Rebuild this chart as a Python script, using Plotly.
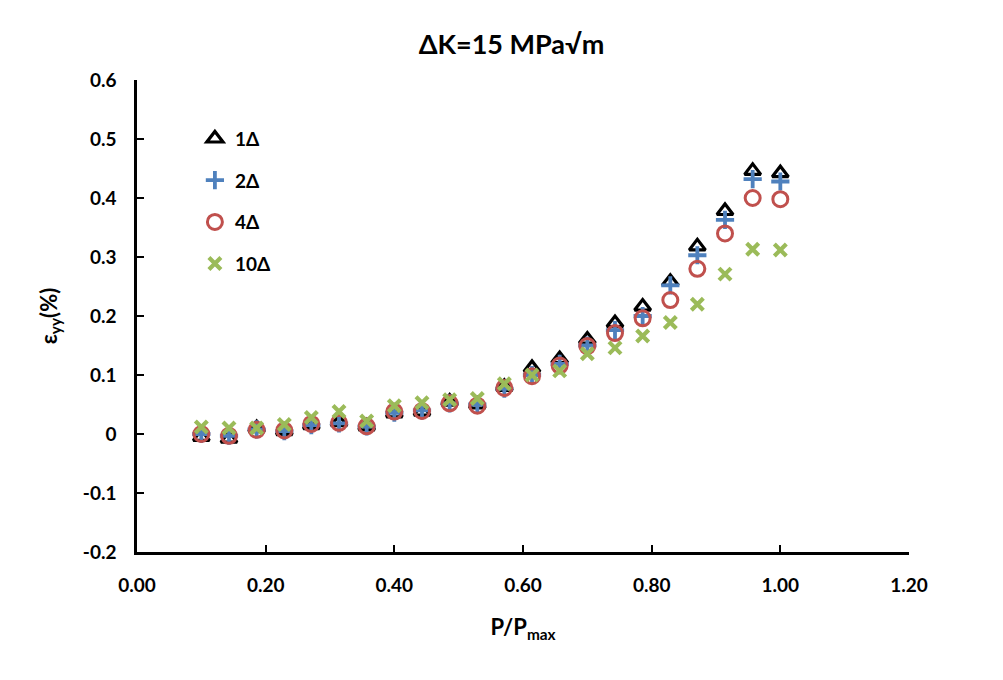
import plotly.graph_objects as go

# Data
p_ratio = [0.1, 0.143, 0.186, 0.229, 0.271, 0.314, 0.357, 0.4, 0.443, 0.486, 0.529,
           0.571, 0.614, 0.657, 0.7, 0.743, 0.786, 0.829, 0.871, 0.914, 0.957, 1.0]
eps_1 = [-0.005, -0.008, 0.010, 0.005, 0.015, 0.020, 0.013, 0.035, 0.038, 0.055, 0.050,
         0.080, 0.112, 0.127, 0.160, 0.188, 0.216, 0.258, 0.318, 0.378, 0.446, 0.442]
eps_2 = [0.000, -0.003, 0.008, 0.005, 0.015, 0.018, 0.013, 0.036, 0.040, 0.052, 0.050,
         0.077, 0.100, 0.119, 0.150, 0.176, 0.200, 0.252, 0.303, 0.363, 0.432, 0.428]
eps_4 = [0.000, -0.003, 0.007, 0.006, 0.017, 0.019, 0.013, 0.038, 0.039, 0.052, 0.048,
         0.078, 0.098, 0.116, 0.149, 0.171, 0.196, 0.227, 0.280, 0.340, 0.400, 0.398]
eps_10 = [0.012, 0.010, 0.010, 0.016, 0.028, 0.038, 0.022, 0.048, 0.053, 0.058, 0.060,
          0.085, 0.100, 0.107, 0.136, 0.146, 0.166, 0.189, 0.220, 0.271, 0.313, 0.312]
series_names = ["1Δ", "2Δ", "4Δ", "10Δ"]
y_tick_vals = [-0.2, -0.1, 0, 0.1, 0.2, 0.3, 0.4, 0.5, 0.6]
y_tick_text = ["-0.2", "-0.1", "0", "0.1", "0.2", "0.3", "0.4", "0.5", "0.6"]
x_tick_vals = [0.0, 0.2, 0.4, 0.6, 0.8, 1.0, 1.2]
x_tick_text = ["0.00", "0.20", "0.40", "0.60", "0.80", "1.00", "1.20"]

FONT = "Lato"

styles = [
    dict(symbol="triangle-up-open", size=14, color="black", line=dict(width=3.2, color="black")),
    dict(symbol="cross-thin", size=13, color="#4F81BD", line=dict(width=3.8, color="#4F81BD")),
    dict(symbol="circle-open", size=15, color="#C0504D", line=dict(width=3, color="#C0504D")),
    dict(symbol="x-thin", size=12, color="#9BBB59", line=dict(width=4.2, color="#9BBB59")),
]

fig = go.Figure()
for name, ys, st in zip(series_names, [eps_1, eps_2, eps_4, eps_10], styles):
    fig.add_trace(go.Scatter(x=p_ratio, y=ys, mode="markers", name=name,
                             legendgroup=name, marker=st))

fig.update_layout(
    width=1003, height=680,
    paper_bgcolor="white", plot_bgcolor="white",
    margin=dict(l=137, r=94, t=80, b=128),
    font=dict(family=FONT, color="black"),
    title=dict(text="ΔK=15 MPa√m", x=0.51, xref="container", xanchor="center",
               y=0.935, yref="container", yanchor="middle",
               font=dict(size=27, family=FONT, weight="bold", color="black")),
    showlegend=True,
    legend=dict(x=0.075, y=0.916, xanchor="left", yanchor="top",
                bgcolor="rgba(0,0,0,0)", tracegroupgap=14,
                font=dict(size=19, family=FONT, weight="bold", color="black"),
                itemwidth=30),
)
fig.update_xaxes(
    range=[0, 1.2], tickvals=x_tick_vals, ticktext=x_tick_text,
    showgrid=False, zeroline=False,
    showline=True, linecolor="black", linewidth=2.5,
    ticks="inside", ticklen=7, tickwidth=2, tickcolor="black",
    ticklabelstandoff=14,
    tickfont=dict(size=19, family=FONT, weight="bold", color="black"),
    title=dict(text="P/P<sub>max</sub>", standoff=26,
               font=dict(size=22, family=FONT, weight="bold", color="black")),
)
fig.update_yaxes(
    range=[-0.2, 0.6], tickvals=y_tick_vals, ticktext=y_tick_text,
    showgrid=False, zeroline=False,
    showline=True, linecolor="black", linewidth=2.5,
    ticks="inside", ticklen=7, tickwidth=2, tickcolor="black",
    ticklabelstandoff=14,
    tickfont=dict(size=19, family=FONT, weight="bold", color="black"),
    title=dict(text="ε<sub>yy</sub>(%)", standoff=20,
               font=dict(size=22, family=FONT, weight="bold", color="black")),
)

fig.write_html("out.html")
